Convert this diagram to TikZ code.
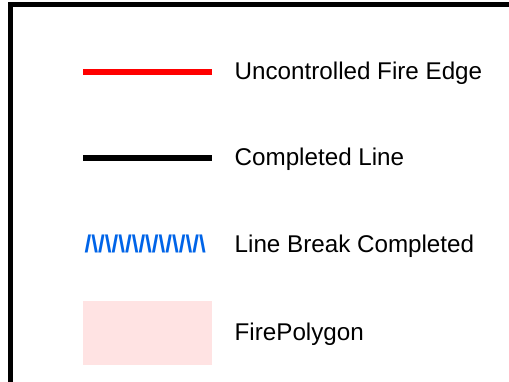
\documentclass[tikz,border=0pt]{standalone}
\usepackage{fontspec}
\setmainfont{Liberation Sans}
\definecolor{zigblue}{RGB}{0,100,232}
\definecolor{polypink}{RGB}{255,227,227}
\newcommand{\zzpair}{/\textbackslash}
\begin{document}
\begin{tikzpicture}[x=1pt,y=-1pt,
  legtext/.style={anchor=base west,inner sep=0pt,font=\fontsize{24.2}{29}\selectfont},
  legline/.style={line width=6pt}]
\useasboundingbox (0,0) rectangle (509,381);
\clip (0,0) rectangle (509,381);
% frame
\draw[line width=5pt,miter limit=10] (10.5,400) -- (10.5,4.5) -- (530,4.5);
% red line
\coordinate (r1) at (83,72); \coordinate (r2) at (211.5,72);
\draw[legline,red] (r1) -- (r2);
\node[legtext] (t1) at (234.5,79.5) {Uncontrolled Fire Edge};
% black line
\coordinate (k1) at (83,158); \coordinate (k2) at (211.5,158);
\draw[legline,black] (k1) -- (k2);
\node[legtext] (t2) at (234.5,165.5) {Completed Line};
% zigzag symbol
\node[legtext,text=zigblue,font=\fontsize{24.2}{29}\selectfont\bfseries] (z) at (84.5,252.5) {\zzpair\zzpair\zzpair\zzpair\zzpair\zzpair\zzpair\zzpair\zzpair};
\node[legtext] (t3) at (234.5,252.5) {Line Break Completed};
% polygon
\fill[polypink] (83,301) rectangle (212,365);
\node[legtext] (t4) at (234.5,340.5) {FirePolygon};
\end{tikzpicture}
\end{document}
